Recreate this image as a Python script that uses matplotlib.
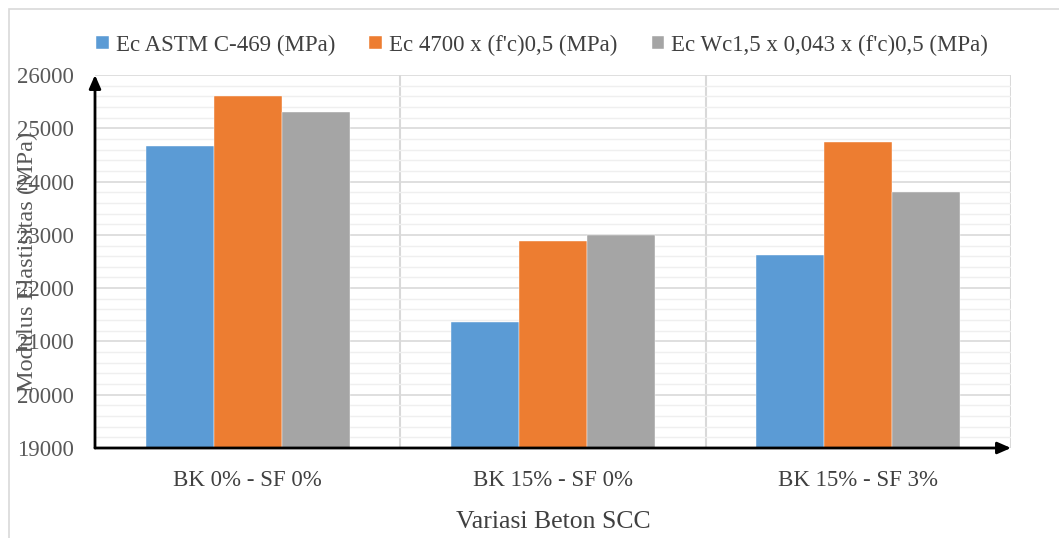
import numpy as np
import matplotlib.pyplot as plt
from matplotlib.ticker import MultipleLocator
from matplotlib.patches import Rectangle

plt.rcParams['font.family'] = ['Liberation Serif', 'DejaVu Serif']

categories = ['BK 0% - SF 0%', 'BK 15% - SF 0%', 'BK 15% - SF 3%']
series_names = ['Ec ASTM C-469 (MPa)',
                "Ec 4700 x (f'c)0,5 (MPa)",
                "Ec Wc1,5 x 0,043 x (f'c)0,5 (MPa)"]
ec_astm = [24670, 21365, 22615]
ec_4700 = [25600, 22885, 24745]
ec_wc = [25310, 22990, 23795]
colors = ['#5b9bd5', '#ed7d31', '#a5a5a5']

fig = plt.figure(figsize=(10.59, 5.38), dpi=100)
W, H = 1059, 538

# light frame of the chart area
fig.patches.append(Rectangle((9 / W, -0.1), 1.2, 1 - 9 / H + 0.1, transform=fig.transFigure,
                             fill=False, edgecolor='#d9d9d9', linewidth=1.2))

ax = fig.add_axes([95 / W, (H - 448) / H, (1011 - 95) / W, (448 - 75) / H])

x = np.arange(len(categories))
bw = 0.223
for i, vals in enumerate([ec_astm, ec_4700, ec_wc]):
    ax.bar(x + (i - 1) * bw, vals, bw, color=colors[i], label=series_names[i],
           edgecolor='white', linewidth=0.3, zorder=3)

ax.set_xlim(-0.5, 2.5)
ax.set_ylim(19000, 26000)
ax.yaxis.set_major_locator(MultipleLocator(1000))
ax.yaxis.set_minor_locator(MultipleLocator(200))
ax.grid(axis='y', which='major', color='#d9d9d9', linewidth=1.2, zorder=0)
ax.grid(axis='y', which='minor', color='#efefef', linewidth=1.0, zorder=0)
for xv in [0.5, 1.5, 2.5]:
    ax.axvline(xv, color='#d9d9d9', linewidth=1.5, zorder=1)

for s in ax.spines.values():
    s.set_visible(False)
ax.tick_params(axis='both', which='both', length=0)
ax.tick_params(axis='y', labelsize=16.5, colors='#595959', pad=15)
ax.set_xticks(x)
ax.set_xticklabels(categories, fontsize=16.5, color='#404040')
ax.tick_params(axis='x', pad=16)

# axis arrows
ax.annotate('', xy=(0, 1.0), xytext=(0, 0), xycoords='axes fraction',
            arrowprops=dict(arrowstyle='-|>,head_length=0.8,head_width=0.35',
                            color='black', lw=2, shrinkA=0, shrinkB=0), zorder=5)
ax.annotate('', xy=(1.0, 0), xytext=(0, 0), xycoords='axes fraction',
            arrowprops=dict(arrowstyle='-|>,head_length=0.8,head_width=0.35',
                            color='black', lw=2, shrinkA=0, shrinkB=0), zorder=5)

ax.set_xlabel('Variasi Beton SCC', fontsize=18.5, color='#404040', labelpad=14)
fig.text(27 / W, 1 - 262 / H, 'Modulus Elastisitas (MPa)', rotation=90,
         ha='center', va='center', fontsize=17.5, color='#595959')

fig.legend(loc='center', bbox_to_anchor=(542 / W, 1 - 45 / H), ncol=3, frameon=False,
           fontsize=16.5, handlelength=0.55, handleheight=0.55, handletextpad=0.3,
           columnspacing=1.5, labelcolor='#404040')

fig.savefig('out.png', dpi=100)
